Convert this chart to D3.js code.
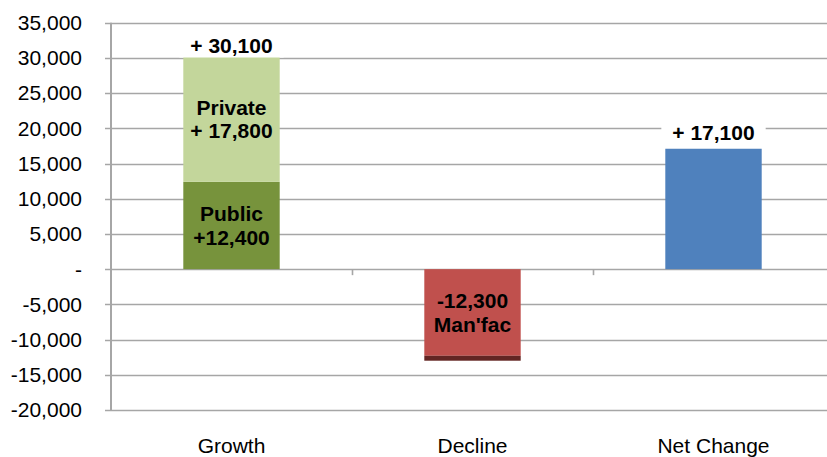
<!DOCTYPE html>
<html>
<head>
<meta charset="utf-8">
<script src="https://cdn.jsdelivr.net/npm/d3@7/dist/d3.min.js"></script>
<style>
  html, body { margin: 0; padding: 0; background: #ffffff; }
  svg { display: block; font-family: "Liberation Sans", Arial, sans-serif; }
</style>
</head>
<body>
<svg id="chart" width="827" height="457"></svg>
<script>
// Categories along the x axis
const categories = ["Growth", "Decline", "Net Change"];
// Lower segment of each column (public jobs, manufacturing loss, net change)
const baseValues = [12400, -12300, 17100];
// Upper segment stacked on top (private jobs, other losses)
const stackValues = [17800, -700, 0];
// Fill colours per category: [base, stacked]
const baseColors = ["#77933c", "#c0504d", "#4f81bd"];
const stackColors = ["#c3d69b", "#632523", "#4f81bd"];
// Text inside the base segment and the stacked segment
const baseLabels = [["Public", "+12,400"], ["-12,300", "Man'fac"], []];
const stackLabels = [["Private", "+ 17,800"], [], []];
// Totals written above the columns
const totalLabels = ["+ 30,100", "", "+ 17,100"];
// Y axis ticks
const yTicks = [-20000, -15000, -10000, -5000, 0, 5000, 10000, 15000, 20000, 25000, 30000, 35000];

const svg = d3.select("#chart");
const plotLeft = 111, plotRight = 834, plotTop = 22.7, plotBottom = 410;
const fontSize = 21;

const y = d3.scaleLinear().domain([-20000, 35000]).range([plotBottom, plotTop]);
const x = d3.scaleBand().domain(categories).range([plotLeft, plotRight])
  .paddingInner(0.6).paddingOuter(0.3);

const gridColor = "#a6a6a6";
const fmt = d3.format(",");
const tickText = v => v === 0 ? "-" : fmt(v).replace("\u2212", "-");

// Horizontal gridlines with short tick marks into the axis
svg.append("g").selectAll("line").data(yTicks).join("line")
  .attr("x1", plotLeft - 6).attr("x2", plotRight)
  .attr("y1", d => Math.round(y(d)) + 0.5).attr("y2", d => Math.round(y(d)) + 0.5)
  .attr("stroke", gridColor).attr("stroke-width", 1.6);

// Y axis labels
svg.append("g").selectAll("text").data(yTicks).join("text")
  .attr("x", 82).attr("y", d => y(d)).attr("dy", "0.35em")
  .attr("text-anchor", "end").attr("font-size", fontSize).attr("fill", "#000")
  .text(tickText);

// Vertical axis line
svg.append("line")
  .attr("x1", plotLeft).attr("x2", plotLeft).attr("y1", plotTop).attr("y2", plotBottom)
  .attr("stroke", gridColor).attr("stroke-width", 2);

// Category boundary tick marks on the zero line
const step = x.step();
const boundaries = d3.range(1, categories.length).map(i => plotLeft + i * step);
svg.append("g").selectAll("line").data(boundaries).join("line")
  .attr("x1", d => Math.round(d) + 0.5).attr("x2", d => Math.round(d) + 0.5)
  .attr("y1", y(0)).attr("y2", y(0) + 6)
  .attr("stroke", gridColor).attr("stroke-width", 1.6);

// Columns: base segment from zero, stacked segment on top of it
const bars = svg.append("g");
categories.forEach((c, i) => {
  const b = baseValues[i], s = stackValues[i];
  bars.append("rect")
    .attr("x", x(c)).attr("width", x.bandwidth())
    .attr("y", y(Math.max(0, b))).attr("height", Math.abs(y(b) - y(0)))
    .attr("fill", baseColors[i]);
  if (s !== 0) {
    const y0 = b, y1 = b + s;
    bars.append("rect")
      .attr("x", x(c)).attr("width", x.bandwidth())
      .attr("y", y(Math.max(y0, y1))).attr("height", Math.abs(y(y1) - y(y0)))
      .attr("fill", stackColors[i]);
  }
});

// Two-line labels centred in a segment
function segmentLabel(c, lines, v0, v1) {
  if (!lines.length) return;
  const cx = x(c) + x.bandwidth() / 2;
  const cy = (y(v0) + y(v1)) / 2;
  const lh = 23.5;
  const t = svg.append("text")
    .attr("text-anchor", "middle").attr("font-size", fontSize).attr("font-weight", "bold")
    .attr("fill", "#000");
  lines.forEach((ln, k) => {
    t.append("tspan").attr("x", cx)
      .attr("y", cy + (k - (lines.length - 1) / 2) * lh)
      .attr("dy", "0.35em").text(ln);
  });
}
categories.forEach((c, i) => {
  segmentLabel(c, baseLabels[i], 0, baseValues[i]);
  segmentLabel(c, stackLabels[i], baseValues[i], baseValues[i] + stackValues[i]);
});

// Totals above the columns, on a white backing
categories.forEach((c, i) => {
  if (!totalLabels[i]) return;
  const topVal = Math.max(baseValues[i], baseValues[i] + stackValues[i]);
  const cx = x(c) + x.bandwidth() / 2;
  const gap = stackValues[i] !== 0 ? 4 : 9;
  const by = y(topVal) - gap;
  const g = svg.append("g");
  const t = g.append("text")
    .attr("x", cx).attr("y", by)
    .attr("text-anchor", "middle").attr("font-size", fontSize).attr("font-weight", "bold")
    .attr("fill", "#000").text(totalLabels[i]);
  const bb = t.node().getBBox();
  g.insert("rect", "text")
    .attr("x", bb.x - 11).attr("y", bb.y - 1)
    .attr("width", bb.width + 22).attr("height", bb.height + 2)
    .attr("fill", "#fff");
});

// Category labels
svg.append("g").selectAll("text").data(categories).join("text")
  .attr("x", d => x(d) + x.bandwidth() / 2).attr("y", 453)
  .attr("text-anchor", "middle").attr("font-size", fontSize).attr("fill", "#000")
  .text(d => d);
</script>
</body>
</html>
